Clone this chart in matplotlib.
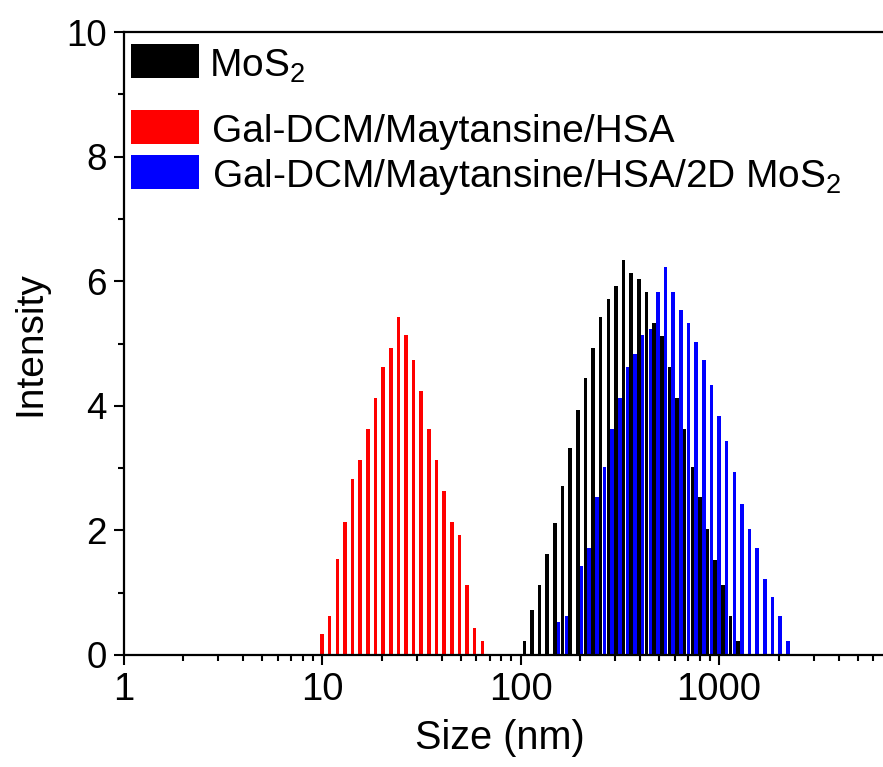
import matplotlib
matplotlib.use('Agg')
import matplotlib.pyplot as plt
import numpy as np
from matplotlib.patches import Rectangle
from matplotlib.ticker import MultipleLocator, FixedLocator, FixedFormatter

plt.rcParams['font.family'] = ['Liberation Sans', 'DejaVu Sans']
plt.rcParams['mathtext.default'] = 'regular'

# DLS size distributions (size in nm, intensity %)
red_size = [10.00, 10.93, 11.94, 13.04, 14.25, 15.57, 17.01, 18.59, 20.31, 22.19, 24.24,
            26.49, 28.94, 31.62, 34.55, 37.75, 41.25, 45.07, 49.24, 53.80, 58.78, 64.22]
red_int = [0.33, 0.63, 1.54, 2.13, 2.82, 3.13, 3.63, 4.13, 4.63, 4.93, 5.43,
           5.14, 4.73, 4.23, 3.63, 3.13, 2.63, 2.13, 1.93, 1.12, 0.43, 0.23]

black_size = [104.5, 114.2, 124.8, 136.3, 149.0, 162.7, 177.8, 194.3, 212.3, 232.0,
              253.4, 276.9, 302.6, 330.5, 361.2, 394.6, 431.1, 471.1, 514.6, 562.3,
              614.3, 671.3, 733.6, 801.4, 875.7, 956.8, 1045, 1142, 1248]
black_int = [0.23, 0.72, 1.12, 1.62, 2.12, 2.72, 3.33, 3.93, 4.44, 4.93,
             5.43, 5.72, 5.93, 6.34, 6.13, 6.03, 5.83, 5.33, 5.12, 4.63,
             4.13, 3.63, 3.02, 2.53, 2.02, 1.52, 1.12, 0.63, 0.23]

blue_size = [155.7, 170.1, 185.9, 203.1, 221.9, 242.4, 264.9, 289.4, 316.2, 345.5,
             377.5, 412.5, 450.7, 492.4, 538.0, 587.8, 642.2, 701.7, 766.7, 837.7,
             915.3, 1000, 1092.6, 1193.8, 1304.3, 1425.1, 1557.0, 1701.2, 1858.7,
             2030.9, 2218.9]
blue_int = [0.53, 0.63, 0.0, 1.43, 1.72, 2.53, 3.02, 3.63, 4.13, 4.63,
            4.83, 5.13, 5.23, 5.83, 6.23, 5.83, 5.53, 5.33, 5.03, 4.73,
            4.33, 3.83, 3.43, 2.93, 2.42, 2.02, 1.72, 1.22, 0.93, 0.63, 0.23]

labels = ['MoS$_2$', 'Gal-DCM/Maytansine/HSA', 'Gal-DCM/Maytansine/HSA/2D MoS$_2$']
colors = ['black', '#ff0000', '#0000ff']


def log_bars(ax, sizes, heights, color, w=0.018):
    # thin bars of constant width in log space
    s = np.array(sizes)
    left = s * 10 ** (-w / 2)
    right = s * 10 ** (w / 2)
    ax.bar(left, heights, width=right - left, align='edge', color=color, linewidth=0)


fig = plt.figure(figsize=(8.83, 7.67), dpi=100)
ax = fig.add_axes([123.5 / 883, 112 / 767, 759.5 / 883, 623 / 767])

log_bars(ax, red_size, red_int, colors[1])
log_bars(ax, blue_size, blue_int, colors[2])
log_bars(ax, black_size, black_int, colors[0])

ax.set_xscale('log')
ax.set_xlim(1, 6700)
ax.set_ylim(0, 10)
ax.xaxis.set_major_locator(FixedLocator([1, 10, 100, 1000]))
ax.xaxis.set_major_formatter(FixedFormatter(['1', '10', '100', '1000']))
ax.yaxis.set_major_locator(MultipleLocator(2))
ax.yaxis.set_minor_locator(MultipleLocator(1))

for s in ['left', 'bottom', 'top']:
    ax.spines[s].set_linewidth(1.6)
ax.spines['right'].set_visible(False)
ax.tick_params(which='major', length=7.5, width=1.5, pad=4.5, direction='out')
ax.tick_params(which='minor', length=4.5, width=1.5, direction='out')
ax.tick_params(axis='x', labelsize=27.5)
ax.tick_params(axis='y', labelsize=26.5)
ax.tick_params(top=False, right=False, which='both')

ax.set_xlabel('Size (nm)', fontsize=28.5)
ax.set_ylabel('Intensity', fontsize=28)
ax.xaxis.set_label_coords(0.496, -0.103)
ax.yaxis.set_label_coords(-0.099, 0.5)

# legend drawn by hand: uneven row spacing in the original
patch_y = [0.926, 0.820, 0.748]
text_y = [0.928, 0.823, 0.751]
text_x = [0.1126, 0.117, 0.117]
for c, lab, py, ty, tx in zip(colors, labels, patch_y, text_y, text_x):
    ax.add_patch(Rectangle((0.0099, py), 0.0895, 0.055, transform=ax.transAxes,
                           color=c, linewidth=0, clip_on=False))
    ax.text(tx, ty, lab, transform=ax.transAxes, fontsize=28, va='baseline', ha='left')

fig.savefig('out.png', dpi=100)
